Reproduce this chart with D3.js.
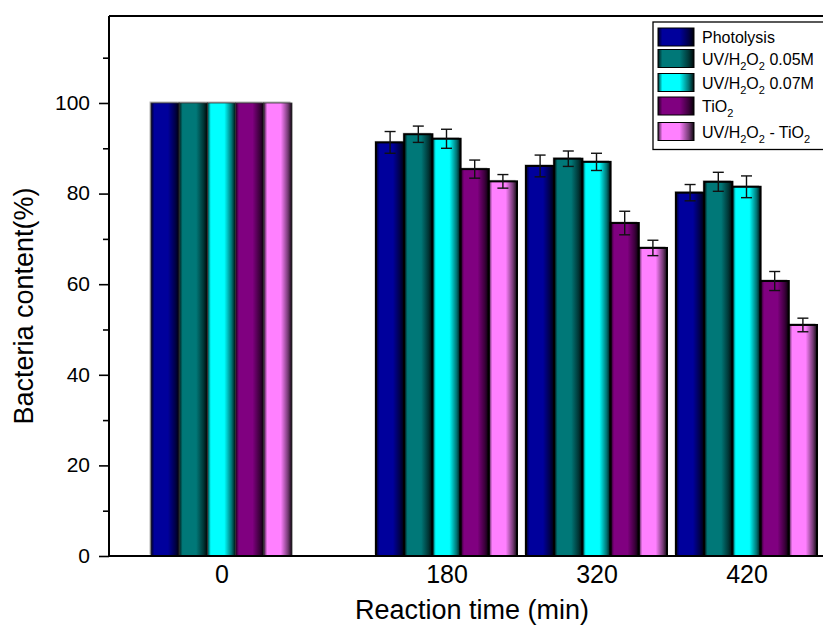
<!DOCTYPE html>
<html>
<head>
<meta charset="utf-8">
<script src="https://d3js.org/d3.v7.min.js"></script>
<style>
  body { margin: 0; background: #fff; }
  svg { display: block; font-family: "Liberation Sans", Arial, sans-serif; }
  .axis path, .axis line { stroke: #000; }
</style>
</head>
<body>
<script>
  // reaction times (categories) and where each group sits on the x axis
  var categories = ["0", "180", "320", "420"];
  var slots = [1, 2.5, 3.5, 4.5];

  var seriesNames = ["Photolysis", "UV/H_2O_2 0.05M", "UV/H_2O_2 0.07M", "TiO_2", "UV/H_2O_2 - TiO_2"];
  var seriesColors = ["#00009c", "#007878", "#00ffff", "#800080", "#ff80ff"];

  var photolysis   = [100, 91.3, 86.1, 80.2];
  var uvH2o2005    = [100, 93.1, 87.7, 82.6];
  var uvH2o2007    = [100, 92.1, 87.0, 81.5];
  var tio2         = [100, 85.4, 73.5, 60.7];
  var uvH2o2Tio2   = [100, 82.7, 68.0, 51.0];

  var photolysisErr = [0, 2.4, 2.4, 1.8];
  var uvH2o2005Err  = [0, 1.8, 1.7, 2.1];
  var uvH2o2007Err  = [0, 2.1, 1.9, 2.4];
  var tio2Err       = [0, 2.0, 2.6, 2.1];
  var uvH2o2Tio2Err = [0, 1.5, 1.7, 1.5];

  var yMajorTicks = [0, 20, 40, 60, 80, 100];
  var yMinorTicks = [10, 30, 50, 70, 90, 110];

  var values = [photolysis, uvH2o2005, uvH2o2007, tio2, uvH2o2Tio2];
  var errors = [photolysisErr, uvH2o2005Err, uvH2o2007Err, tio2Err, uvH2o2Tio2Err];

  var W = 823, H = 627;
  var plotLeft = 109, plotTop = 16, plotBottom = 556;

  var svg = d3.select("body").append("svg")
    .attr("width", W)
    .attr("height", H);

  var x = d3.scaleLinear().domain([0.25, 5.1]).range([plotLeft, plotLeft + 4.85 * 150]);
  var y = d3.scaleLinear().domain([0, 119.2]).range([plotBottom, plotTop]);

  var groupW = x(0.94) - x(0);
  var barW = groupW / seriesNames.length;

  // cylinder-like shading for each colour
  var defs = svg.append("defs");
  seriesColors.forEach(function(c, i) {
    var mix = d3.interpolateRgb("#000", c);
    var g = defs.append("linearGradient")
      .attr("id", "grad" + i)
      .attr("x1", 0).attr("x2", 1).attr("y1", 0).attr("y2", 0);
    [[0, 0.2], [0.12, 1], [0.6, 1], [0.86, 0.45], [1, 0.05]].forEach(function(s) {
      g.append("stop").attr("offset", s[0]).attr("stop-color", mix(s[1]));
    });
  });

  var bars = [];
  values.forEach(function(vals, s) {
    vals.forEach(function(v, k) {
      bars.push({s: s, k: k, value: v, err: errors[s][k]});
    });
  });

  function barX(d) { return x(slots[d.k]) - groupW / 2 + d.s * barW; }

  // faint grey shadow up/left of each bar
  svg.append("g").selectAll("rect")
    .data(bars)
    .enter().append("rect")
    .attr("x", function(d) { return barX(d) - 1.5; })
    .attr("y", function(d) { return y(d.value) - 1.5; })
    .attr("width", barW)
    .attr("height", function(d) { return plotBottom - y(d.value); })
    .attr("fill", "#b8b8b8");

  svg.append("g").selectAll("rect")
    .data(bars)
    .enter().append("rect")
    .attr("x", barX)
    .attr("y", function(d) { return y(d.value); })
    .attr("width", barW)
    .attr("height", function(d) { return plotBottom - y(d.value); })
    .attr("fill", function(d) { return "url(#grad" + d.s + ")"; })
    .attr("stroke", function(d) { return d.k === 0 ? "#333" : "#000"; })
    .attr("stroke-width", function(d) { return d.k === 0 ? 0.8 : 2; });

  // error bars
  var eb = svg.append("g").selectAll("g")
    .data(bars.filter(function(d) { return d.err > 0; }))
    .enter().append("g")
    .attr("stroke", "#111")
    .attr("stroke-width", 1.4);
  eb.append("line")
    .attr("x1", function(d) { return barX(d) + barW / 2; })
    .attr("x2", function(d) { return barX(d) + barW / 2; })
    .attr("y1", function(d) { return y(d.value + d.err); })
    .attr("y2", function(d) { return y(d.value - d.err); });
  eb.selectAll("line.cap")
    .data(function(d) { return [[d, d.value + d.err], [d, d.value - d.err]]; })
    .enter().append("line")
    .attr("class", "cap")
    .attr("x1", function(p) { return barX(p[0]) + barW / 2 - 5.5; })
    .attr("x2", function(p) { return barX(p[0]) + barW / 2 + 5.5; })
    .attr("y1", function(p) { return y(p[1]); })
    .attr("y2", function(p) { return y(p[1]); });

  // axes
  var yAxis = svg.append("g")
    .attr("class", "axis")
    .attr("transform", "translate(" + plotLeft + ",0)")
    .call(d3.axisLeft(y).tickValues(yMajorTicks).tickSize(10).tickPadding(9).tickSizeOuter(0));
  yAxis.select(".domain").attr("stroke-width", 2).attr("d", "M0," + plotBottom + "V" + plotTop);
  yAxis.selectAll(".tick line").attr("stroke-width", 1.6);
  yAxis.selectAll("text").attr("font-size", 21).attr("fill", "#000").attr("dy", "0.3em");

  svg.append("g")
    .attr("class", "axis")
    .attr("transform", "translate(" + plotLeft + ",0)")
    .call(d3.axisLeft(y).tickValues(yMinorTicks).tickSize(6).tickFormat("").tickSizeOuter(0))
    .call(function(g) { g.select(".domain").remove(); })
    .selectAll(".tick line").attr("stroke-width", 1.6);

  var xAxis = svg.append("g")
    .attr("class", "axis")
    .attr("transform", "translate(0," + plotBottom + ")")
    .call(d3.axisBottom(x).tickValues(slots).tickSize(0).tickPadding(9)
      .tickFormat(function(d, i) { return categories[i]; }));
  xAxis.select(".domain").attr("stroke-width", 2.2).attr("d", "M" + plotLeft + ",0H" + (W + 5));
  xAxis.selectAll("text").attr("font-size", 25).attr("fill", "#000");

  // top frame
  svg.append("line")
    .attr("x1", plotLeft).attr("x2", W + 5)
    .attr("y1", plotTop).attr("y2", plotTop)
    .attr("stroke", "#000").attr("stroke-width", 2);

  // axis titles
  svg.append("text")
    .attr("transform", "translate(33,306) rotate(-90)")
    .attr("text-anchor", "middle")
    .attr("font-size", 27)
    .text("Bacteria content(%)");

  svg.append("text")
    .attr("x", 472).attr("y", 619)
    .attr("text-anchor", "middle")
    .attr("font-size", 27)
    .text("Reaction time (min)");

  // legend
  var lg = svg.append("g").attr("transform", "translate(653,22)");
  lg.append("rect")
    .attr("x", 0).attr("y", 0)
    .attr("width", 200).attr("height", 127.5)
    .attr("fill", "#fff").attr("stroke", "#000").attr("stroke-width", 1.3);

  var rowY = [15, 36.5, 60.5, 84, 109.5];
  var rows = lg.selectAll("g.row")
    .data(seriesNames)
    .enter().append("g")
    .attr("class", "row")
    .attr("transform", function(d, i) { return "translate(0," + rowY[i] + ")"; });

  rows.append("rect")
    .attr("x", 5).attr("y", -9)
    .attr("width", 36).attr("height", 18)
    .attr("fill", function(d, i) { return "url(#grad" + i + ")"; })
    .attr("stroke", "#000").attr("stroke-width", 1);

  rows.append("text")
    .attr("x", 49).attr("y", 6)
    .attr("font-size", 16)
    .each(function(name) {
      var t = d3.select(this);
      var parts = name.split(/_(\d)/);
      var shifted = false;
      parts.forEach(function(p, j) {
        if (p === "") return;
        if (j % 2 === 1) {
          t.append("tspan").attr("font-size", 11).attr("dy", shifted ? 0 : 5).text(p);
          shifted = true;
        } else {
          t.append("tspan").attr("dy", shifted ? -5 : 0).text(p);
          shifted = false;
        }
      });
    });
</script>
</body>
</html>
